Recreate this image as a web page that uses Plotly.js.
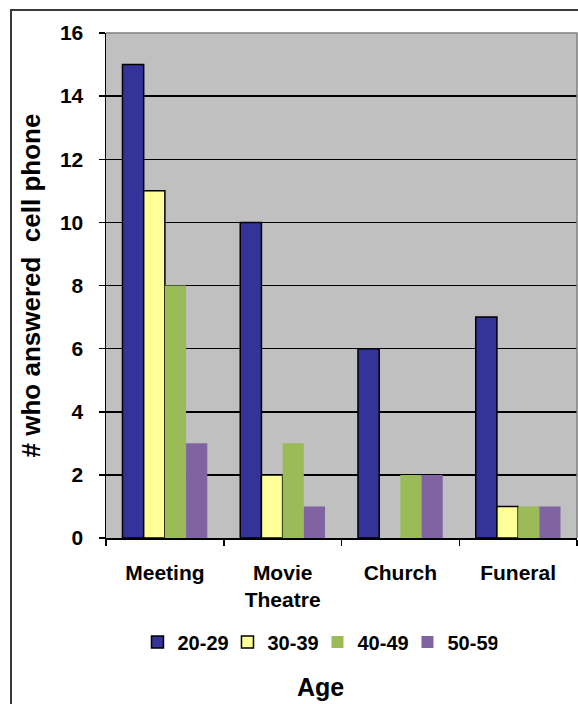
<!DOCTYPE html>
<html>
<head>
<meta charset="utf-8">
<script src="https://cdn.plot.ly/plotly-3.0.1.min.js"></script>
<style>
  html, body { margin: 0; padding: 0; background: #fff; }
  #wrap { position: relative; width: 578px; height: 704px; overflow: hidden; }
  #chart { position: absolute; left: 0; top: 0; width: 578px; height: 704px; }
  #frame { position: absolute; left: 10px; top: 9px; width: 600px; height: 720px;
           border: 2px solid #3a3a3a; pointer-events: none; box-sizing: border-box; }
</style>
</head>
<body>
<div id="wrap">
  <div id="chart"></div>
  <div id="frame"></div>
</div>
<script>
const categories = ["Meeting", "Movie<br>Theatre", "Church", "Funeral"];
const seriesNames = ["20-29", "30-39", "40-49", "50-59"];
const age20_29 = [15, 10, 6, 7];
const age30_39 = [11, 2, 0, 1];
const age40_49 = [8, 3, 2, 1];
const age50_59 = [3, 1, 2, 1];
const yTicks = [0, 2, 4, 6, 8, 10, 12, 14, 16];

const colors = ["#333399", "#FFFF99", "#9BBB59", "#8064A2"];
const outlines = [1.5, 1.5, 0, 0];
const values = [age20_29, age30_39, age40_49, age50_59];

const traces = values.map((v, i) => ({
  type: "bar",
  name: seriesNames[i],
  x: categories,
  y: v,
  marker: { color: colors[i], line: { color: "#000", width: v.map(val => val === 0 ? 0 : outlines[i]) } },
  hoverinfo: "skip"
}));

const fontFam = "Liberation Sans, Arial, sans-serif";

const layout = {
  width: 578, height: 704,
  margin: { l: 106, r: 1, t: 33, b: 166 },
  paper_bgcolor: "#ffffff",
  plot_bgcolor: "#C0C0C0",
  barmode: "group",
  bargap: 0.28,
  bargroupgap: 0,
  showlegend: true,
  legend: {
    orientation: "h", x: 0.449, xanchor: "center", y: -0.206, yanchor: "middle",
    font: { family: fontFam, size: 20, color: "#000", weight: "bold" },
    itemwidth: 30, entrywidth: 45, entrywidthmode: "pixels",
    traceorder: "normal", bgcolor: "rgba(0,0,0,0)"
  },
  xaxis: {
    type: "category",
    tickson: "boundaries",
    ticks: "outside", ticklen: 6, tickwidth: 1.5, tickcolor: "#000",
    ticklabelstandoff: 15,
    showline: true, linecolor: "#000", linewidth: 1.5,
    showgrid: false,
    tickfont: { family: fontFam, size: 21, color: "#000", weight: "bold" },
    fixedrange: true
  },
  yaxis: {
    range: [0, 16], tickvals: yTicks, ticktext: yTicks.map(String),
    ticks: "outside", ticklen: 6, tickwidth: 1.5, tickcolor: "#000",
    ticklabelstandoff: 11,
    showline: true, linecolor: "#000", linewidth: 1.5,
    showgrid: true, gridcolor: "#000", gridwidth: 1.5,
    zeroline: false,
    tickfont: { family: fontFam, size: 21, color: "#000", weight: "bold" },
    title: { text: "# who answered  cell phone", standoff: 12,
             font: { family: fontFam, size: 26, color: "#000", weight: "bold" } },
    fixedrange: true
  },
  shapes: [{
    type: "path", xref: "paper", yref: "paper",
    path: "M 0,1 L 1,1 L 1,0",
    line: { color: "#808080", width: 1.5 }, layer: "above"
  }],
  annotations: [{
    text: "Age", xref: "paper", yref: "paper", x: 0.455, y: -0.295,
    xanchor: "center", yanchor: "middle", showarrow: false,
    font: { family: fontFam, size: 25, color: "#000", weight: "bold" }
  }]
};

Plotly.newPlot("chart", traces, layout, { displayModeBar: false, staticPlot: true });
</script>
</body>
</html>
